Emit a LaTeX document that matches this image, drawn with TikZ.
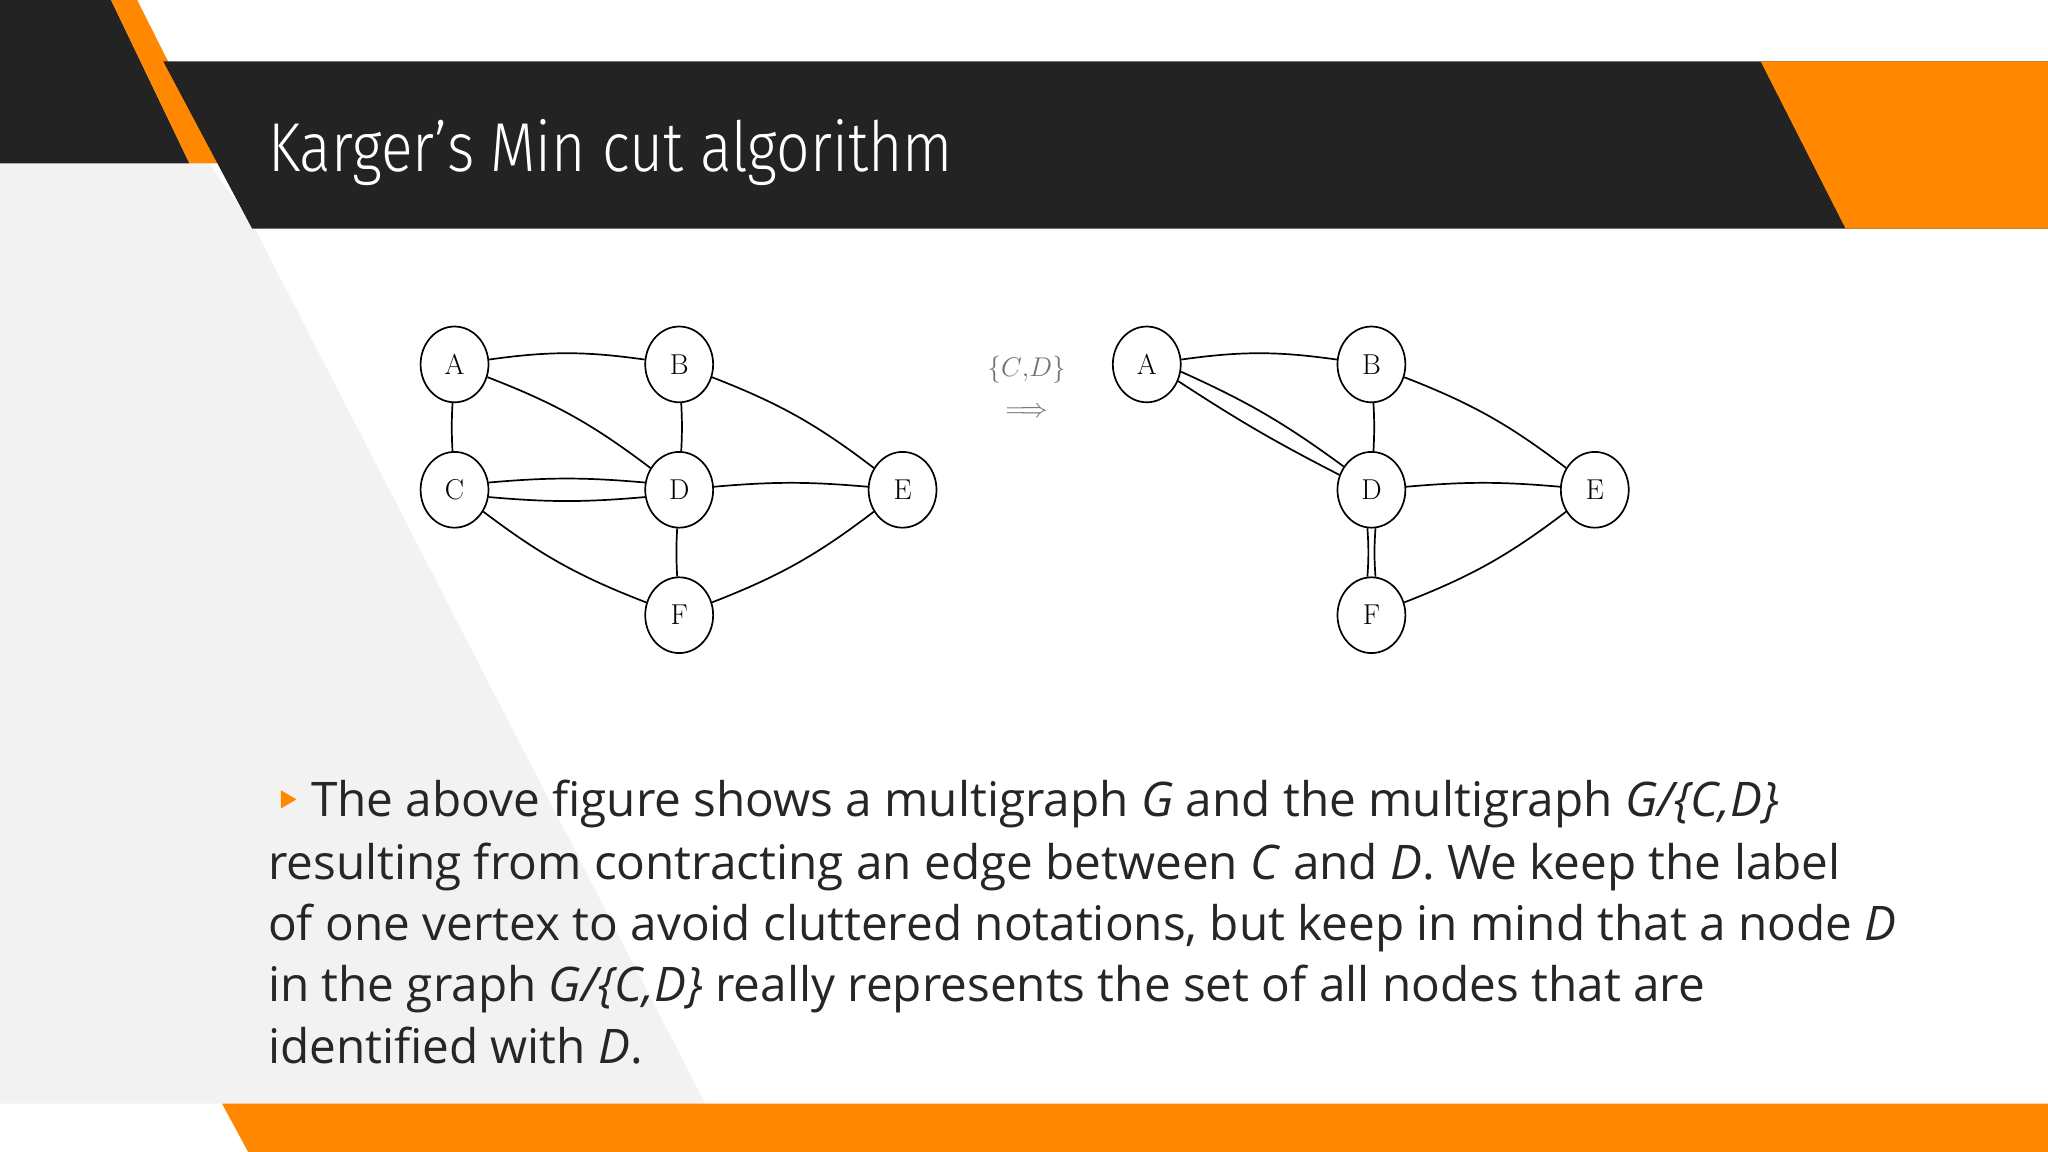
\documentclass[tikz,border=0pt]{standalone}
\usepackage{fontspec}
\setmainfont{Latin Modern Roman}
\newfontfamily\bodyfont{Open Sans}
\newfontfamily\titlefont[FakeStretch=0.85]{Fira Sans Light}
\usetikzlibrary{shapes.geometric}
\definecolor{myorange}{RGB}{255,136,0}
\definecolor{mydark}{RGB}{34,35,34}
\definecolor{mygray}{RGB}{242,242,242}
\tikzset{
  vtx/.style={ellipse,draw,line width=1.3pt,minimum width=52pt,minimum height=58pt,inner sep=0pt,font=\fontsize{22}{22}\selectfont},
  edg/.style={line width=1.3pt},
  bodyline/.style={anchor=base west,inner sep=0pt,font=\bodyfont\fontsize{36.5}{40}\selectfont,text=black!85}
}
\begin{document}
\begin{tikzpicture}[x=1pt,y=-1pt]
\useasboundingbox (0,0) rectangle (1568,882);
\fill[white] (0,0) rectangle (1568,882);
\fill[mygray] (0,125) -- (160,125) -- (195,175) -- (540,845) -- (0,845) -- cycle;
\fill[mydark] (0,0) -- (85,0) -- (145,125) -- (0,125) -- cycle;
\fill[myorange] (85,0) -- (105,0) -- (168,125) -- (145,125) -- cycle;
\fill[mydark] (125,47) -- (1568,47) -- (1568,175) -- (193,175) -- cycle;
\fill[myorange] (1348,47) -- (1568,47) -- (1568,175) -- (1413,175) -- cycle;
\fill[myorange] (170,845) -- (1568,845) -- (1568,882) -- (190,882) -- cycle;
\node[anchor=base west,inner sep=0pt,text=white,font=\titlefont\fontsize{53}{53}\selectfont] (title) at (205,131) {Karger’s Min cut algorithm};
% left graph
\node[vtx] (A) at (348,279) {A};
\node[vtx] (B) at (520,279) {B};
\node[vtx] (C) at (348,375) {C};
\node[vtx] (D) at (520,375) {D};
\node[vtx] (E) at (691,375) {E};
\node[vtx] (F) at (520,471) {F};
\draw[edg] (A) to[bend left=8] (B);
\draw[edg] (A) to[bend right=3] (C);
\draw[edg] (A) to[bend left=8] (D);
\draw[edg] (B) to[bend left=3] (D);
\draw[edg] (B) to[bend left=8] (E);
\draw[edg] (C.12) to[bend left=5] (D.168);
\draw[edg] (C.-12) to[bend right=5] (D.-168);
\draw[edg] (C) to[bend right=8] (F);
\draw[edg] (D) to[bend left=5] (E);
\draw[edg] (D) to[bend right=3] (F);
\draw[edg] (F) to[bend right=8] (E);
% arrow label
\node[inner sep=0pt,text=black!55,font=\fontsize{21}{21}\selectfont] (lab) at (786,283) {$\{C{,}D\}$};
\node[inner sep=0pt,text=black!55,font=\fontsize{21}{21}\selectfont] (arr) at (786,316) {$\Longrightarrow$};
% right graph
\node[vtx] (A2) at (878,279) {A};
\node[vtx] (B2) at (1050,279) {B};
\node[vtx] (D2) at (1050,375) {D};
\node[vtx] (E2) at (1221,375) {E};
\node[vtx] (F2) at (1050,471) {F};
\draw[edg] (A2) to[bend left=8] (B2);
\draw[edg] (A2.-12) to[bend left=6] (D2.140);
\draw[edg] (A2.-28) to[bend right=3] (D2.155);
\draw[edg] (B2) to[bend left=3] (D2);
\draw[edg] (B2) to[bend left=8] (E2);
\draw[edg] (D2) to[bend left=5] (E2);
\draw[edg] (D2.-96) to[bend left=4] (F2.96);
\draw[edg] (D2.-84) to[bend right=4] (F2.84);
\draw[edg] (F2) to[bend right=8] (E2);
% text
\fill[myorange] (215,605) -- (227,612) -- (215,619) -- cycle;
\node[bodyline] (l1) at (238,625) {The above figure shows a multigraph \textit{G} and the multigraph \textit{G/\{C,D\}}};
\node[bodyline] (l2) at (205,673) {resulting from contracting an edge between \textit{C} and \textit{D}. We keep the label};
\node[bodyline] (l3) at (205,720) {of one vertex to avoid cluttered notations, but keep in mind that a node \textit{D}};
\node[bodyline] (l4) at (205,767) {in the graph \textit{G/\{C,D\}} really represents the set of all nodes that are};
\node[bodyline] (l5) at (205,814) {identified with \textit{D}.};
\end{tikzpicture}
\end{document}
